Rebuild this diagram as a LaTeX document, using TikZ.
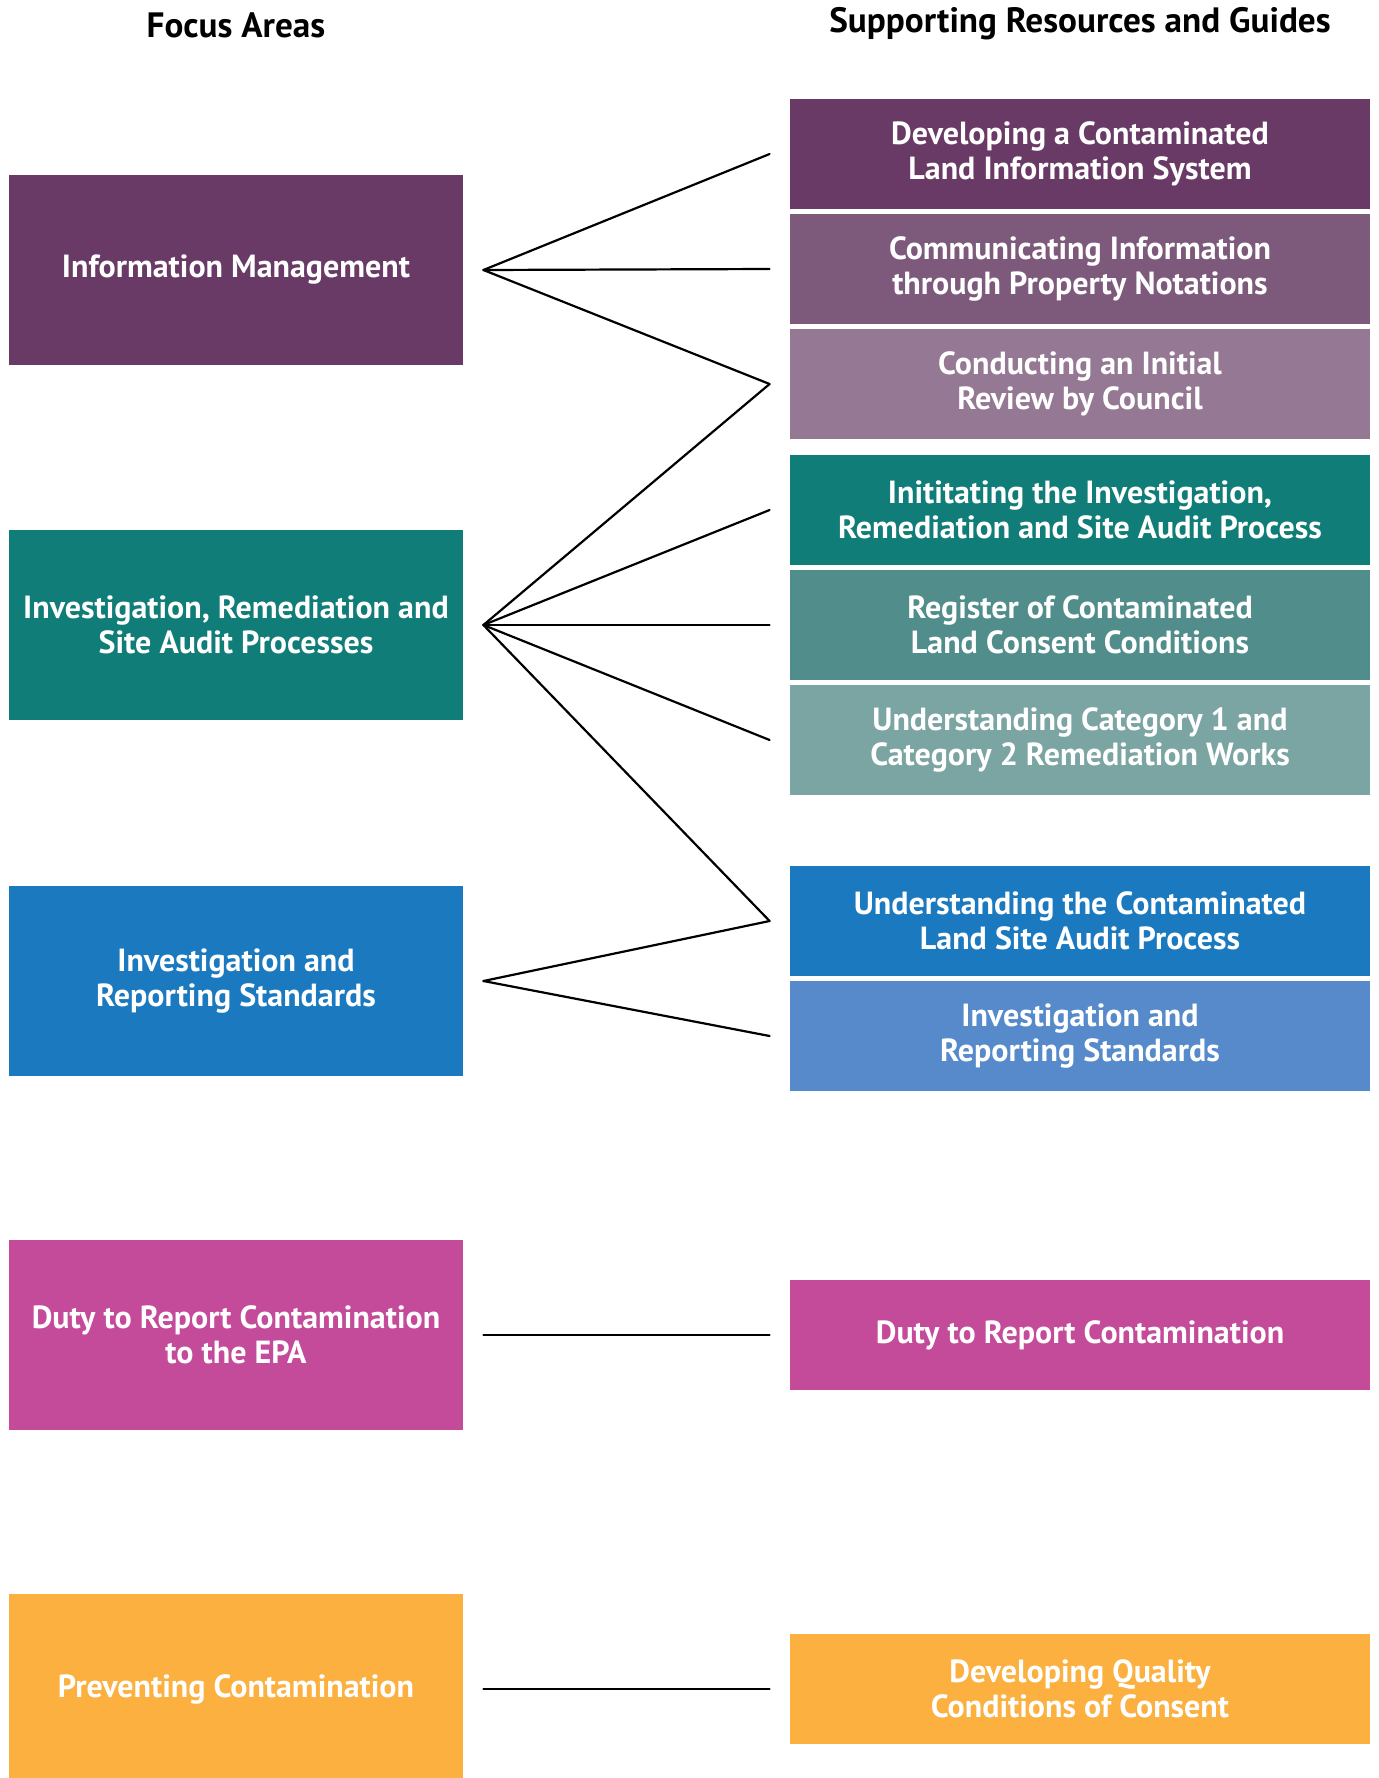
\documentclass[tikz,border=0pt]{standalone}
\usepackage{fontspec}
\setmainfont{PT Sans}
\usetikzlibrary{positioning}

% palette
\definecolor{infoA}{HTML}{693A65}
\definecolor{infoB}{HTML}{7D5A7B}
\definecolor{infoC}{HTML}{957893}
\definecolor{invA}{HTML}{117D78}
\definecolor{invB}{HTML}{518E8B}
\definecolor{invC}{HTML}{7BA5A3}
\definecolor{stdA}{HTML}{1B7ABF}
\definecolor{stdB}{HTML}{568ACA}
\definecolor{duty}{HTML}{C44A9A}
\definecolor{prevent}{HTML}{FBB040}

\newcommand{\boxfont}{\fontsize{16}{17.5}\selectfont\bfseries}
\newcommand{\headfont}{\fontsize{17.6}{20}\selectfont\bfseries}

\begin{document}
\begin{tikzpicture}[x=0.5pt,y=-0.5pt,
  area/.style={fill=#1, text=white, minimum width=227pt, minimum height=95pt,
    inner sep=0pt, align=center, font=\boxfont},
  guide/.style={fill=#1, text=white, minimum width=290pt, minimum height=55pt,
    inner sep=0pt, align=center, font=\boxfont},
  link/.style={line width=1.1pt, black, line cap=round, line join=round}]
  \useasboundingbox (0,0) rectangle (1378,1778);

  % Column headings
  \node[font=\headfont] (head-left) at (236,25) {Focus Areas};
  \node[font=\headfont] (head-right) at (1080,24) {Supporting Resources and Guides};

  % Focus areas
  \node[area=infoA] (im) at (236,270) {Information Management};
  \node[area=invA] (irs) at (236,625) {Investigation, Remediation and\\Site Audit Processes};
  \node[area=stdA] (std) at (236,981) {Investigation and\\Reporting Standards};
  \node[area=duty] (dty) at (236,1335) {Duty to Report Contamination\\to the EPA};
  \node[area=prevent] (prv) at (236,1689) {Preventing Contamination};

  % Resources and guides
  \node[guide=infoA] (g1) at (1080,154) {Developing a Contaminated\\Land Information System};
  \node[guide=infoB] (g2) at (1080,269) {Communicating Information\\through Property Notations};
  \node[guide=infoC] (g3) at (1080,384) {Conducting an Initial\\Review by Council};
  \node[guide=invA] (g4) at (1080,510) {Inititating the Investigation,\\Remediation and Site Audit Process};
  \node[guide=invB] (g5) at (1080,625) {Register of Contaminated\\Land Consent Conditions};
  \node[guide=invC] (g6) at (1080,740) {Understanding Category 1 and\\Category 2 Remediation Works};
  \node[guide=stdA] (g7) at (1080,921) {Understanding the Contaminated\\Land Site Audit Process};
  \node[guide=stdB] (g8) at (1080,1036) {Investigation and\\Reporting Standards};
  \node[guide=duty] (g9) at (1080,1335) {Duty to Report Contamination};
  \node[guide=prevent] (g10) at (1080,1689) {Developing Quality\\Conditions of Consent};

  % line ends sit a little off the boxes
  \foreach \n in {im,irs,std,dty,prv}
    \coordinate (\n-hub) at ([xshift=10pt]\n.east);
  \foreach \n in {g1,g2,g3,g4,g5,g6,g7,g8,g9,g10}
    \coordinate (\n-end) at ([xshift=-10pt]\n.west);

  % Links
  \foreach \g in {g1,g2,g3}
    \draw[link] (im-hub) -- (\g-end);
  \foreach \g in {g3,g4,g5,g6,g7}
    \draw[link] (irs-hub) -- (\g-end);
  \foreach \g in {g7,g8}
    \draw[link] (std-hub) -- (\g-end);
  \draw[link] (dty-hub) -- (g9-end);
  \draw[link] (prv-hub) -- (g10-end);
\end{tikzpicture}
\end{document}
